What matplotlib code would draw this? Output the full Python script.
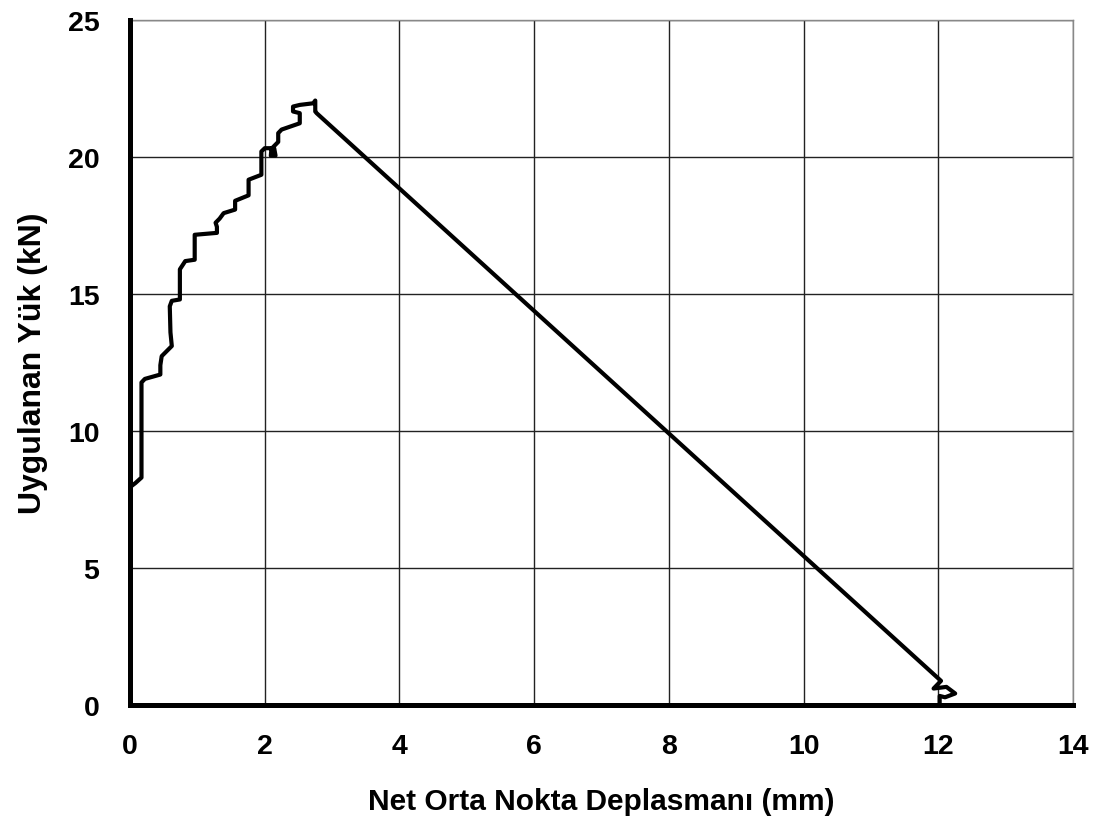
import matplotlib.pyplot as plt
import numpy as np

plt.rcParams['font.family'] = ['Liberation Sans', 'DejaVu Sans']
plt.rcParams['font.weight'] = 'bold'

# Load-displacement curve (mm, kN)
disp = [0.0, 0.0, 0.08, 0.17, 0.17, 0.22, 0.45, 0.45, 0.47, 0.62, 0.60, 0.59,
        0.62, 0.74, 0.74, 0.82, 0.96, 0.96, 1.29, 1.29, 1.27, 1.33, 1.39, 1.56,
        1.56, 1.76, 1.76, 1.95, 1.95, 2.00, 2.14, 2.16, 2.09, 2.10, 2.20, 2.20,
        2.25, 2.52, 2.52, 2.42, 2.42, 2.52, 2.72, 2.75, 2.75, 2.77,
        12.04, 11.93, 12.12, 12.25, 12.10, 12.02, 12.02]
load = [0.0, 7.95, 8.10, 8.30, 11.77, 11.90, 12.06, 12.40, 12.73, 13.10, 13.60, 14.55,
        14.75, 14.80, 15.90, 16.20, 16.25, 17.16, 17.23, 17.45, 17.60, 17.75, 17.95, 18.08,
        18.40, 18.60, 19.17, 19.35, 20.20, 20.32, 20.32, 20.05, 20.05, 20.30, 20.55, 20.87,
        21.00, 21.23, 21.60, 21.66, 21.84, 21.90, 21.96, 22.06, 21.66, 21.60,
        0.88, 0.60, 0.66, 0.42, 0.28, 0.33, 0.0]

x_ticks = [0, 2, 4, 6, 8, 10, 12, 14]
y_ticks = [0, 5, 10, 15, 20, 25]

fig = plt.figure(figsize=(11.02, 8.29), dpi=100)
ax = fig.add_axes([0.118, 0.1484, 0.8557, 0.8263])

ax.plot(disp, load, color='black', lw=3.0, solid_joinstyle='round',
        solid_capstyle='round', zorder=3)

ax.set_xlim(0, 14)
ax.set_ylim(0, 25)
ax.set_xticks(x_ticks)
ax.set_yticks(y_ticks)
ax.grid(True, color='#222222', lw=1.0)
ax.set_axisbelow(True)

for s in ['top', 'right']:
    ax.spines[s].set_color('#888888')
    ax.spines[s].set_linewidth(1.0)
for s in ['left', 'bottom']:
    ax.spines[s].set_color('black')
    ax.spines[s].set_linewidth(3.6)
    ax.spines[s].set_zorder(4)

ax.tick_params(axis='both', length=0, labelsize=20.5)
ax.tick_params(axis='x', pad=20)
ax.tick_params(axis='y', pad=22)

ax.set_xlabel('Net Orta Nokta Deplasmanı (mm)', fontsize=21.5, fontweight='bold', labelpad=20)
ax.set_ylabel('Uygulanan Yük (kN)', fontsize=23, fontweight='bold', labelpad=14)

fig.savefig('out.png', dpi=100)
